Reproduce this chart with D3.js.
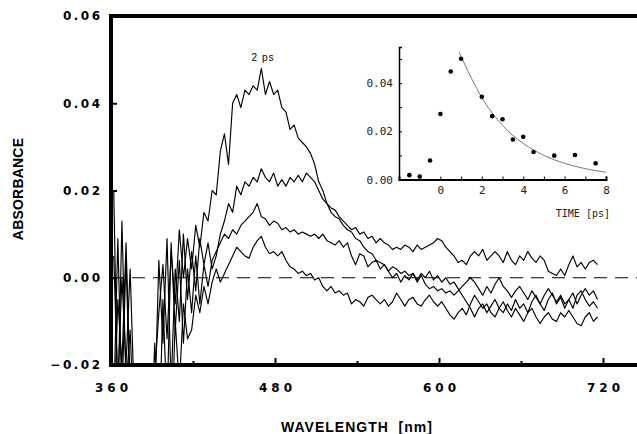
<!DOCTYPE html>
<html>
<head>
<meta charset="utf-8">
<script src="https://cdn.jsdelivr.net/npm/d3@7"></script>
<style>
  body { margin: 0; background: #fff; }
  svg { display: block; }
  .bold { font-family: "Liberation Sans", Arial, sans-serif; font-weight: bold; fill: #000; }
  .tick-bold { font-family: "DejaVu Sans", sans-serif; font-weight: bold; fill: #000; }
  .mono { font-family: "DejaVu Sans Mono", monospace; fill: #222; }
</style>
</head>
<body>
<div id="chart"></div>
<script>
// sampling grid of the spectra (nm)
const wavelengths = d3.range(362, 718, 3);

// transient spectra, absorbance x 1000
const spec1 = [
  20, -30, 13, -25, -12, -35, -40, -40, -38, -40,
  -22, -8, 3, -14, 6, -6, 11, 0, 9, 2,
  12, 7, 15, 13, 20, 19, 29, 33, 26, 40,
  42, 39, 43, 42, 44, 43, 48, 42, 45, 42,
  43, 39, 38, 34, 35, 32, 31, 30, 28.5, 26,
  22, 20, 17, 16, 15.5, 14, 13, 12, 11, 11.5,
  10, 10.5, 9, 9.5, 8, 9, 8, 7.5, 6.5, 7,
  6.5, 7.5, 7, 6, 7.5, 6.5, 7, 7.5, 8, 9,
  8.5, 7, 6, 5, 3.5, 4, 3, 5, 6, 5,
  6.5, 4, 5, 6, 5, 3.5, 6, 4, 3, 5,
  4, 6, 4.5, 3.5, 5, 4, 1.5, 1, 0.5, 2,
  0.5, 3, 5, 2.5, 3.5, 2, 3.5, 4, 3
];
const spec2 = [
  -30, 9, -28, 5, -30, -40, -42, -40, -45, -40,
  -30, 4, -15, 9, -25, 2, -10, 10, -5, 6,
  -3, 9, 3, 8, 2, 5, 10, 13, 17, 15,
  21, 19, 22, 21, 23, 22, 25, 23, 22, 24,
  21, 22.5, 21, 23, 22, 23.5, 22, 24, 23, 22,
  20, 18, 17, 15, 14, 13.5, 12, 11, 10.5, 9,
  8.5, 7, 6, 5.5, 4, 3.5, 3, 1.5, 2.5, 2,
  1, 1.5, 0.5, 1, -0.5, 1, 0, 1.5, -0.5, 0.5,
  -1, 0, -1.5, -1, -2.5, -4, -5.5, -7, -9, -7,
  -6, -8, -6.5, -5, -7, -8, -6, -7.5, -5, -7,
  -6, -8, -5.5, -4, -6, -7.5, -5, -3.5, -6, -4.5,
  -7, -5, -3.5, -6, -4, -2.5, -4, -3, -5
];
const spec3 = [
  5, -25, 0, -20, 2, -28, -40, -45, -42, -40,
  -15, -40, -5, -30, 8, -12, 4, -15, 2, -8,
  5, -6, 3, -2, 4, 6, 8, 10, 9, 11,
  10, 12, 13, 14, 15, 17, 14, 13.5, 12, 13,
  12.5, 11, 11.5, 10.5, 11, 10, 10.5, 10, 9.5, 10,
  9, 10, 8.5, 8, 7.5, 8.5, 7, 8, 5, 3,
  5.5, 5, 2.5, 3.5, 4, 2, 3, 1.5, 0, 1,
  -1, 0.5, -0.5, 1, -1, 0.5, -1.5, -2.5, -2, -3,
  -2.5, -3.5, -3, -4, -3, -2, -1, 0, -1, -2.5,
  -4, -2, -3.5, -1.5, 0, -2, -3, -4.5, -3, -2,
  -3.5, -5, -3, -4.5, -6, -4, -2.5, -4, -5.5, -4,
  -6, -5, -7, -4, -3, -5, -6.5, -5.5, -7
];
const spec4 = [
  -35, -5, -20, 8, -25, -40, -45, -40, -42, -45,
  -40, -30, -35, -20, -38, -10, -25, -6, -14, -12,
  -4, -8, -2, -6, -1, 2, -1, 1, 3, 5,
  7, 6, 5, 4.5, 7, 8.5, 9.5, 7, 5.5, 6,
  5, 6, 4, 2.5, 2, 1, 1.5, 0.5, 1, -0.5,
  0, -2, -3, -2, -3.5, -3, -4, -3.5, -6, -5,
  -5.5, -6.5, -4.5, -4, -5, -6, -5, -6.5, -5.5, -3.5,
  -5, -6.5, -5, -4.5, -6, -6.5, -5, -4, -5.5, -6.5,
  -5.5, -7, -8.5, -9.5, -8, -7, -8.5, -6, -4, -5.5,
  -7, -6, -8, -9, -7, -5.5, -7.5, -9, -7, -8.5,
  -10, -8, -7, -9, -10.5, -9, -8, -9.5, -10, -8,
  -9, -7.5, -9, -10.5, -11, -9, -8, -10, -9
];
const spectra = [spec1, spec2, spec3, spec4];

const xTicks = [360, 420, 480, 540, 600, 660, 720];
const xLabels = [360, 480, 600, 720];
const yTicks = [-20, 0, 20, 40, 60];

// inset: kinetics at the band maximum
const times = [-1.5, -1, -0.5, 0, 0.5, 1, 2, 2.5, 3, 3.5, 4, 4.5, 5.5, 6.5, 7.5];
const kinetics = [0.0018, 0.0012, 0.0079, 0.0272, 0.0448, 0.0501, 0.0343, 0.0263,
                  0.0250, 0.0166, 0.0177, 0.0114, 0.0099, 0.0102, 0.0067];
const fitTimes = [0.9, 1.5, 2, 3, 4, 5, 6, 7, 8];
const fitValues = [0.053, 0.042, 0.034, 0.0225, 0.015, 0.010, 0.0067, 0.0045, 0.003];

const width = 637, height = 434;
const svg = d3.select('#chart').append('svg')
    .attr('width', width)
    .attr('height', height);
svg.append('rect').attr('width', width).attr('height', height).attr('fill', '#fff');

// main scales
const x = d3.scaleLinear().domain([360, 720]).range([111, 603]);
const y = d3.scaleLinear().domain([-20, 60]).range([365, 16]);
const right = width + 10;

svg.append('clipPath').attr('id', 'clip')
  .append('rect')
    .attr('x', x(360) + 2).attr('y', y(60))
    .attr('width', right - x(360)).attr('height', y(-20) - y(60));

// zero line
svg.append('line')
    .attr('x1', x(360)).attr('x2', width)
    .attr('y1', y(0)).attr('y2', y(0))
    .attr('stroke', '#000')
    .attr('stroke-width', 1.2)
    .attr('stroke-dasharray', '13,8');

// spectra
const line = d3.line()
    .x((d, i) => x(wavelengths[i]))
    .y(d => y(d));

svg.append('g').attr('clip-path', 'url(#clip)')
  .selectAll('.spec')
  .data(spectra)
  .enter().append('path')
    .attr('class', 'spec')
    .attr('d', line)
    .attr('fill', 'none')
    .attr('stroke', '#000')
    .attr('stroke-width', 1.15)
    .attr('stroke-linejoin', 'round');

// axes
const xAxis = svg.append('g')
    .attr('transform', `translate(0,${y(-20)})`)
    .call(d3.axisBottom(x).tickValues(xTicks).tickSize(-7).tickPadding(18.5)
      .tickFormat(d => xLabels.includes(d) ? d : ''));
xAxis.select('.domain').remove();
xAxis.selectAll('line').attr('stroke', '#000').attr('stroke-width', 2)
    .attr('y2', d => xLabels.includes(d) ? -7 : -4);
xAxis.selectAll('text').attr('class', 'tick-bold').attr('dx', 2)
    .style('font-size', '12px')
    .style('letter-spacing', '4px');

const yAxis = svg.append('g')
    .attr('transform', `translate(${x(360)},0)`)
    .call(d3.axisLeft(y).tickValues(yTicks).tickSize(-6).tickPadding(8.5)
      .tickFormat(d => d3.format('.2f')(d / 1000).replace('-', '\u2212')));
yAxis.select('.domain').remove();
yAxis.selectAll('line').attr('stroke', '#000').attr('stroke-width', 2);
yAxis.selectAll('text').attr('class', 'tick-bold')
    .style('font-size', '12px')
    .style('letter-spacing', '2.5px');

// frame
svg.append('path')
    .attr('d', `M${right},${y(60)} H${x(360)} V${y(-20)} H${right}`)
    .attr('fill', 'none')
    .attr('stroke', '#000')
    .attr('stroke-width', 4);

// axis titles
svg.append('text')
    .attr('class', 'bold')
    .attr('x', 357).attr('y', 432)
    .attr('text-anchor', 'middle')
    .style('font-size', '14px')
    .style('letter-spacing', '1px')
    .text('WAVELENGTH\u00a0\u00a0[nm]');

svg.append('text')
    .attr('class', 'bold')
    .attr('transform', 'translate(23,189) rotate(-90)')
    .attr('text-anchor', 'middle')
    .style('font-size', '14px')
    .style('letter-spacing', '0.2px')
    .text('ABSORBANCE');

svg.append('text')
    .attr('x', 263).attr('y', 61)
    .attr('text-anchor', 'middle')
    .style('font-family', '"Liberation Sans", Arial, sans-serif')
    .style('font-size', '10px')
    .style('letter-spacing', '1px')
    .text('2 ps');

// inset
const ix = d3.scaleLinear().domain([-2, 8]).range([399, 606]);
const iy = d3.scaleLinear().domain([0, 0.055]).range([179.5, 47]);
const inset = svg.append('g');

const ixAxis = inset.append('g')
    .attr('transform', `translate(0,${iy(0)})`)
    .call(d3.axisBottom(ix).ticks(10).tickSize(-3).tickPadding(7)
      .tickFormat(d => d >= 0 && d % 2 === 0 ? d : ''));
ixAxis.select('.domain').attr('stroke', '#000').attr('stroke-width', 2);
ixAxis.selectAll('line').attr('stroke', '#000');
ixAxis.selectAll('text').attr('class', 'mono').style('font-size', '11px');

const iyAxis = inset.append('g')
    .attr('transform', `translate(${ix(-2)},0)`)
    .call(d3.axisLeft(iy).tickValues([0, 0.01, 0.02, 0.03, 0.04, 0.05]).tickSize(-3).tickPadding(6)
      .tickFormat(d => [0, 0.02, 0.04].includes(d) ? d3.format('.2f')(d) : ''));
iyAxis.select('.domain').attr('stroke', '#000').attr('stroke-width', 1.5);
iyAxis.selectAll('line').attr('stroke', '#000');
iyAxis.selectAll('text').attr('class', 'mono').style('font-size', '11px');

inset.append('path')
    .datum(fitTimes)
    .attr('d', d3.line().curve(d3.curveMonotoneX)
      .x(d => ix(d)).y((d, i) => iy(fitValues[i])))
    .attr('fill', 'none')
    .attr('stroke', '#777')
    .attr('stroke-width', 1);

inset.selectAll('.dot')
    .data(times)
    .enter().append('circle')
    .attr('class', 'dot')
    .attr('r', 2.3)
    .attr('cx', d => ix(d))
    .attr('cy', (d, i) => iy(kinetics[i]))
    .attr('fill', '#000');

inset.append('text')
    .attr('class', 'mono')
    .attr('x', 610).attr('y', 217)
    .attr('text-anchor', 'end')
    .style('font-size', '10px')
    .text('TIME [ps]');
</script>
</body>
</html>
